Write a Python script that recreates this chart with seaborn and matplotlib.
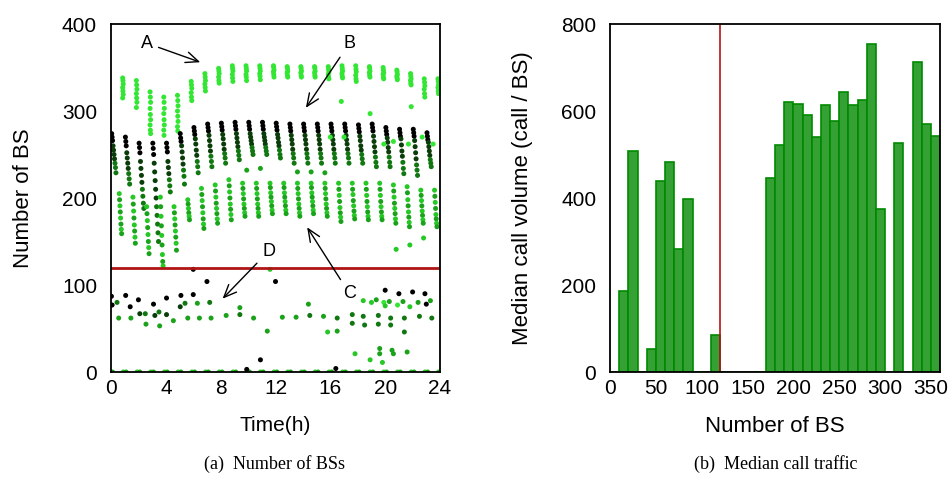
import numpy as np
import pandas as pd
import matplotlib
matplotlib.use("Agg")
import matplotlib.pyplot as plt
import seaborn as sns

# ---- datos panel (a): numero de BS por hora ----
hours = list(range(24))

# grupo A (verde claro, arriba)
a_vals = [
    [338, 335, 331, 327, 323, 319, 315], [335, 330, 325, 320, 315, 310, 304],
    [322, 316, 310, 303, 296, 290, 284, 278, 274], [316, 310, 303, 297, 290, 284, 278, 272],
    [318, 312, 306, 300, 294, 288, 282, 277], [334, 330, 326, 321, 316, 312],
    [343, 339, 335, 331, 327, 323], [349, 346, 343, 339, 335, 332],
    [352, 349, 346, 342, 338, 334], [352, 349, 346, 342, 339, 335],
    [352, 349, 346, 343, 340, 336], [352, 350, 347, 345, 342, 339],
    [351, 349, 346, 344, 341, 339], [351, 349, 346, 344, 341, 339],
    [351, 349, 346, 344, 341, 339], [351, 348, 345, 342, 339, 337],
    [352, 349, 346, 343, 340, 338], [352, 348, 345, 341, 337, 334],
    [351, 349, 346, 344, 341, 339], [350, 347, 344, 342, 339, 337],
    [347, 345, 342, 340, 338, 336], [343, 340, 337, 335, 332, 330],
    [337, 333, 329, 325, 320, 316], [337, 334, 330, 327, 323, 320],
]

# grupo B (negro arriba + verde oscuro)
b_black = [
    [274, 270, 266], [270, 265, 260], [263, 258, 252], [263, 257, 250],
    [263, 258, 253], [274, 269, 265], [281, 277, 273], [285, 281, 277],
    [286, 282, 278], [287, 283, 279], [287, 283, 279], [287, 283, 279],
    [286, 282, 278], [285, 281, 277], [285, 281, 277], [285, 281, 277],
    [285, 281, 277], [285, 281, 277], [284, 280, 276], [285, 281, 277],
    [281, 277, 273], [279, 275, 271], [279, 275, 271], [275, 271, 267],
]
b_dark = [
    [260, 255, 250, 245, 240, 235, 229], [252, 246, 240, 234, 228, 222, 216],
    [242, 234, 226, 218, 210, 202, 194, 188],
    [240, 230, 220, 210, 200, 190, 180, 170, 160, 150],
    [242, 235, 228, 221, 214, 207], [260, 253, 246, 239, 232, 225, 216],
    [268, 262, 255, 249, 242, 236, 229], [272, 266, 260, 254, 248, 242, 236],
    [273, 268, 262, 256, 251, 246, 240], [274, 269, 264, 259, 254, 249, 244],
    [274, 270, 266, 262, 258, 254, 250], [274, 270, 266, 262, 258, 254, 250],
    [273, 269, 264, 260, 255, 250, 246], [272, 267, 262, 256, 251, 246, 240],
    [272, 267, 262, 256, 251, 246, 240], [272, 267, 262, 256, 251, 246, 240],
    [272, 267, 262, 256, 251, 246, 240], [272, 267, 262, 256, 251, 246, 240],
    [271, 266, 260, 255, 250, 245, 240], [271, 265, 259, 253, 247, 241, 236],
    [269, 264, 258, 253, 247, 241, 236], [268, 261, 254, 248, 241, 234, 228],
    [266, 259, 252, 245, 238, 232, 226], [264, 259, 254, 249, 244, 240, 236],
]

# grupo C (verde medio)
c_vals = [
    [205, 198, 191, 184, 177, 170, 164, 159], [201, 193, 185, 177, 169, 162, 155, 148],
    [190, 182, 174, 166, 158, 150, 143, 136], [201, 190, 179, 168, 157, 146, 135, 127, 122],
    [190, 183, 176, 169, 162, 155, 148, 140], [198, 193, 188, 183, 179, 175],
    [211, 204, 197, 190, 183, 176, 170, 165], [215, 208, 201, 194, 188, 182, 176, 171],
    [221, 214, 207, 200, 193, 187, 181, 175], [217, 211, 205, 199, 193, 188, 183, 179],
    [217, 211, 205, 199, 193, 188, 183, 179], [217, 212, 206, 201, 196, 191, 186, 182],
    [217, 212, 206, 201, 196, 191, 186, 182], [217, 211, 205, 199, 193, 188, 183, 179],
    [217, 212, 206, 201, 196, 191, 186, 182], [217, 211, 205, 199, 193, 188, 183, 179],
    [217, 210, 203, 196, 189, 183, 178, 173], [217, 210, 204, 197, 191, 185, 180, 176],
    [217, 210, 203, 196, 190, 184, 179, 175], [217, 210, 203, 196, 190, 184, 179, 175],
    [215, 208, 201, 194, 188, 182, 176, 171], [213, 206, 198, 191, 184, 178, 172, 167],
    [209, 203, 197, 191, 185, 180, 175, 171], [209, 202, 195, 188, 181, 176, 171, 167],
]

# puntos sueltos (grupo D y otros)
d_time = [0.03, 0.08, 0.44, 0.56, 1.07, 1.4, 1.45, 2.0, 2.1, 2.5, 2.55, 3.1, 3.2, 3.5,
          3.55, 4.05, 4.05, 4.55, 5.1, 5.05, 5.4, 5.6, 6.0, 6.0, 7.0, 6.3, 6.45, 7.2,
          7.3, 8.4, 9.4, 9.4, 10.4, 11.4, 11.6, 12.0, 10.9, 9.9, 12.5, 13.5, 14.4,
          14.5, 15.5, 15.8, 16.5, 16.5, 17.6, 17.6, 17.8, 18.4, 18.4, 18.5, 18.9,
          19.0, 19.35, 19.5, 19.5, 19.6, 19.6, 19.8, 19.9, 20.0, 20.0, 20.3, 20.4,
          20.4, 20.5, 20.6, 20.9, 21.0, 21.3, 21.4, 21.4, 21.6, 21.8, 22.0, 22.4,
          22.5, 22.9, 23.0, 23.3, 23.4, 16.4,
          16.8, 18.9, 21.9, 19.9, 20.6, 21.7, 22.7, 23.5, 17.0, 16.0,
          13.6, 14.6, 15.6, 9.9, 10.9, 20.8, 21.8, 22.8]
d_vals = [87, 77, 80, 62, 88, 75, 62, 83, 67, 67, 55, 78, 65, 69,
          53, 85, 66, 59, 88, 75, 79, 62, 89, 118, 104, 79, 62, 80,
          62, 65, 74, 66, 62, 47, 118, 104, 14, 3, 63, 63, 78,
          65, 64, 46, 62, 47, 66, 56, 21, 82, 64, 54, 14,
          80, 83, 65, 55, 27, 21, 11, 80, 76, 94, 81, 62,
          54, 25, 21, 77, 90, 81, 62, 46, 23, 75, 92, 80,
          64, 90, 78, 82, 62, 4,
          311, 297, 305, 262, 265, 262, 270, 262, 270, 270,
          230, 230, 229, 232, 234, 141, 146, 154]
d_shade = [0, 0, 2, 3, 0, 0, 3, 0, 1, 2, 3, 0, 1, 2,
           3, 0, 1, 3, 0, 1, 2, 3, 0, 0, 0, 3, 3, 2,
           3, 3, 3, 2, 3, 3, 4, 0, 0, 0, 3, 3, 3,
           2, 3, 4, 2, 3, 2, 2, 4, 4, 2, 2, 4,
           4, 3, 2, 2, 3, 3, 4, 5, 4, 0, 3, 2,
           2, 3, 3, 5, 0, 3, 2, 2, 3, 4, 0, 3,
           2, 0, 0, 3, 2, 0,
           5, 5, 5, 5, 5, 5, 5, 5, 5, 5,
           3, 3, 3, 3, 3, 4, 4, 4]

# ---- datos panel (b): mediana de llamadas por BS ----
bin_start = [0, 10, 20, 40, 50, 60, 70, 80, 100, 110, 170, 180, 190, 200, 210, 220,
             230, 240, 250, 260, 270, 280, 290, 310, 330, 340, 350]
call_median = [0, 187, 508, 52, 440, 482, 283, 397, 0, 84, 447, 523, 621, 617, 591,
               540, 614, 578, 643, 614, 625, 755, 374, 527, 712, 569, 542]
threshold = 120

# ---- construir tabla de puntos ----
rows = []
for h in hours:
    for i, v in enumerate(a_vals[h]):
        rows.append((h + 0.85 + 0.02 * (i % 3), v, 5))
    for i, v in enumerate(b_black[h]):
        rows.append((h + 0.05 + 0.03 * i, v, 0))
    n = len(b_dark[h])
    for i, v in enumerate(b_dark[h]):
        rows.append((h + 0.15 + 0.035 * i, v, 1 if i < n / 2 else 2))
    for i, v in enumerate(c_vals[h]):
        rows.append((h + 0.6 + 0.025 * i, v, 3 if i % 2 else 4))
    rows.append((h + 0.9, 0, 4))
    rows.append((h + 0.1, 0, 3))
for t, v, s in zip(d_time, d_vals, d_shade):
    rows.append((t, v, s))
pts = pd.DataFrame(rows, columns=["t", "v", "shade"])

bars = pd.DataFrame({"center": [b + 5.0 for b in bin_start],
                     "median": [float(m) for m in call_median]})

shade_pal = {0: "#000000", 1: "#0a3d0a", 2: "#117711", 3: "#1aa31a",
             4: "#25c825", 5: "#33e633"}

# ---- figura ----
sns.set_style("white")
plt.rcParams["font.family"] = ["Liberation Sans", "DejaVu Sans"]
plt.rcParams["text.color"] = "black"
plt.rcParams["axes.labelcolor"] = "black"

fig = plt.figure(figsize=(9.52, 4.83), dpi=100)
ax1 = fig.add_axes([0.1166, 0.2298, 0.3456, 0.7205])
ax2 = fig.add_axes([0.6408, 0.2298, 0.3466, 0.7205])

sns.scatterplot(data=pts, x="t", y="v", hue="shade", palette=shade_pal,
                s=13, linewidth=0, legend=False, ax=ax1)
ax1.axhline(threshold, color="#b01515", lw=2, zorder=1)
ax1.set_xlim(0, 24)
ax1.set_ylim(0, 400)
ax1.set_xticks(range(0, 25, 4))
ax1.set_yticks(range(0, 401, 100))
ax1.set_xlabel("Time(h)", fontsize=15)
ax1.set_ylabel("Number of BS", fontsize=16)

arrow = dict(arrowstyle="->,head_length=0.7,head_width=0.3", color="black", lw=1)
ax1.annotate("A", xy=(6.7, 355), xytext=(2.6, 378), ha="center", va="center",
             arrowprops=arrow, fontsize=13)
ax1.annotate("B", xy=(14.1, 301), xytext=(17.4, 378), ha="center", va="center",
             arrowprops=arrow, fontsize=13)
ax1.annotate("C", xy=(14.2, 169), xytext=(17.4, 90), ha="center", va="center",
             arrowprops=arrow, fontsize=13)
ax1.annotate("D", xy=(8.0, 82), xytext=(11.5, 139), ha="center", va="center",
             arrowprops=arrow, fontsize=13)

sns.histplot(data=bars, x="center", weights="median", binwidth=10, binrange=(0, 360),
             color="#2e9e2e", edgecolor="#008a00", linewidth=1.2, alpha=0.97, ax=ax2)
ax2.axvline(threshold, color="#b01515", lw=1.2)
ax2.set_xlim(0, 360)
ax2.set_ylim(0, 800)
ax2.set_xticks(range(0, 351, 50))
ax2.set_yticks(range(0, 801, 200))
ax2.set_xlabel("Number of BS", fontsize=16)
ax2.set_ylabel("Median call volume (call / BS)", fontsize=16)

for ax in (ax1, ax2):
    for sp in ax.spines.values():
        sp.set_color("black")
        sp.set_linewidth(1.3)
    ax.tick_params(direction="in", length=5, width=1, color="#555555",
                   labelcolor="black", labelsize=15)
    ax.tick_params(axis="x", pad=5)
    ax.tick_params(axis="y", pad=10)
    ax.xaxis.set_label_coords(0.5, -0.125)

ax1.yaxis.set_label_coords(-0.234, 0.5)
ax2.yaxis.set_label_coords(-0.233, 0.5)

fig.text(0.288, 0.04, "(a)  Number of BSs", ha="center", va="center",
         family=["Liberation Serif"], fontsize=13)
fig.text(0.815, 0.04, "(b)  Median call traffic", ha="center", va="center",
         family=["Liberation Serif"], fontsize=13)

fig.savefig("out.png", dpi=100)
